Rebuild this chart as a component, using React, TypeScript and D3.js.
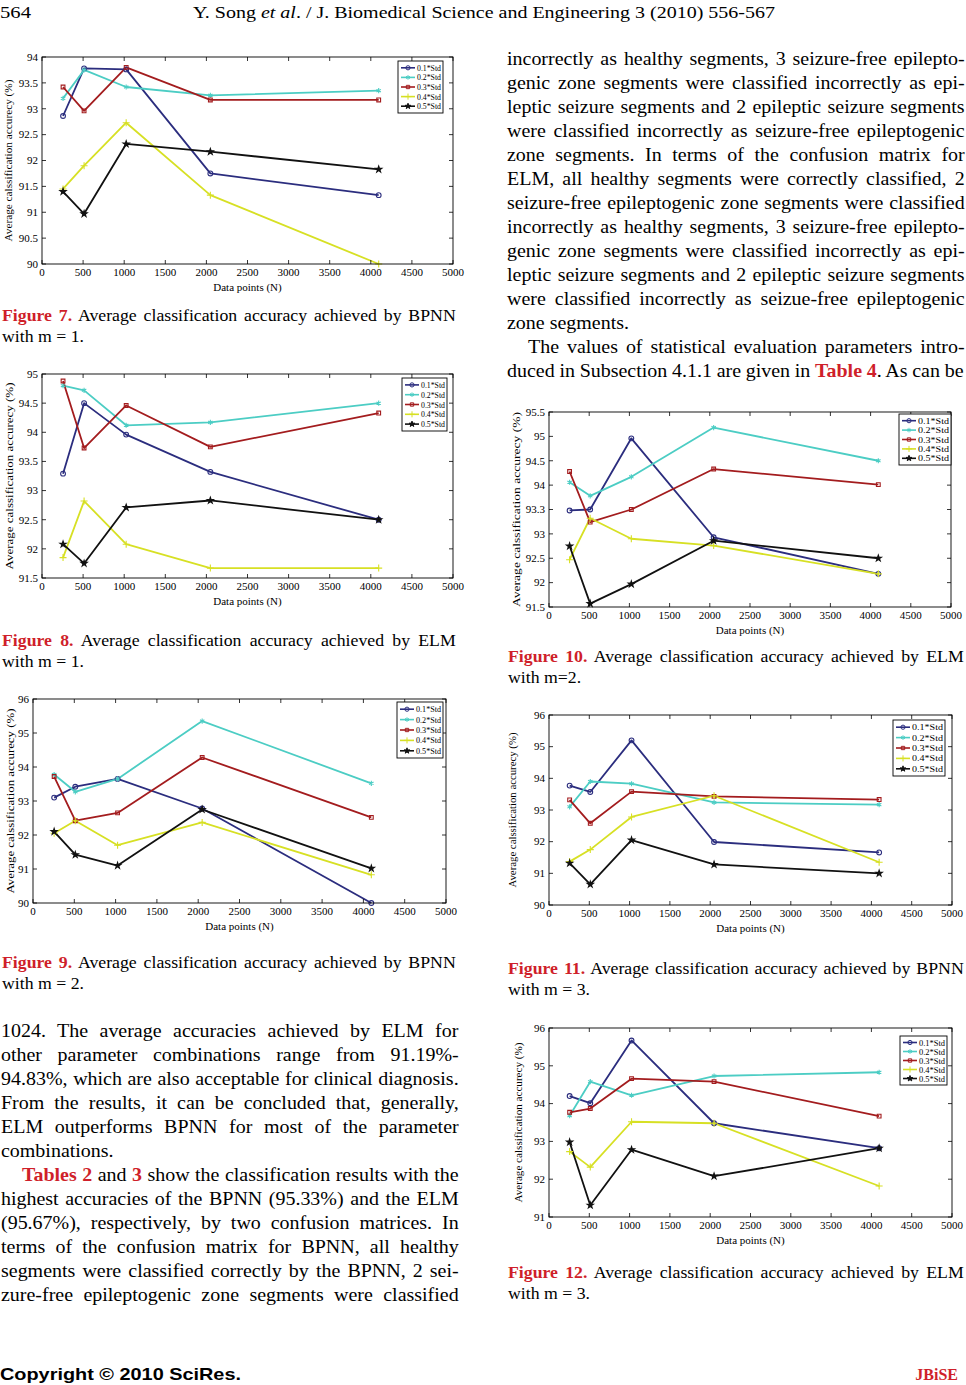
import React from 'react';
import * as d3 from 'd3';

// ---------------- DATA ----------------
const dataPoints = [256, 512, 1024, 2048, 4096];
const seriesLabels = ['0.1*Std', '0.2*Std', '0.3*Std', '0.4*Std', '0.5*Std'];
const xTicks = [0, 500, 1000, 1500, 2000, 2500, 3000, 3500, 4000, 4500, 5000];

// Figure 7: BPNN, m = 1
const fig7Accuracy = [
  [92.86, 93.78, 93.76, 91.75, 91.33],
  [93.2, 93.75, 93.42, 93.26, 93.35],
  [93.42, 92.96, 93.8, 93.17, 93.17],
  [91.45, 91.9, 92.73, 91.33, 90.0],
  [91.4, 90.97, 92.32, 92.17, 91.83],
];
// Figure 8: ELM, m = 1
const fig8Accuracy = [
  [93.29, 94.5, 93.96, 93.32, 92.5],
  [94.8, 94.72, 94.12, 94.17, 94.5],
  [94.88, 93.73, 94.46, 93.75, 94.33],
  [91.85, 92.82, 92.08, 91.67, 91.67],
  [92.08, 91.75, 92.71, 92.83, 92.5],
];
// Figure 9: BPNN, m = 2
const fig9Accuracy = [
  [93.1, 93.42, 93.65, 92.78, 90.0],
  [93.78, 93.27, 93.65, 95.35, 93.52],
  [93.72, 92.42, 92.65, 94.28, 92.52],
  [92.05, 92.42, 91.7, 92.37, 90.83],
  [92.1, 91.42, 91.1, 92.75, 91.02],
];
// Figure 10: ELM, m = 2
const fig10Accuracy = [
  [93.48, 93.5, 94.96, 92.93, 92.18],
  [94.06, 93.78, 94.17, 95.18, 94.5],
  [94.28, 93.24, 93.5, 94.33, 94.01],
  [92.47, 93.32, 92.9, 92.76, 92.18],
  [92.75, 91.57, 91.97, 92.86, 92.5],
];
// Figure 11: BPNN, m = 3
const fig11Accuracy = [
  [93.77, 93.57, 95.2, 91.99, 91.66],
  [93.1, 93.9, 93.83, 93.24, 93.17],
  [93.32, 92.58, 93.58, 93.43, 93.33],
  [91.37, 91.75, 92.78, 93.45, 91.35],
  [91.32, 90.65, 92.05, 91.28, 91.0],
];
// Figure 12: ELM, m = 3
const fig12Accuracy = [
  [94.2, 94.01, 95.67, 93.48, 92.82],
  [93.68, 94.58, 94.22, 94.73, 94.83],
  [93.77, 93.87, 94.66, 94.58, 93.67],
  [92.73, 92.32, 93.52, 93.48, 91.82],
  [92.98, 91.31, 92.78, 92.08, 92.82],
];

const ticksHalf90to94 = [90, 90.5, 91, 91.5, 92, 92.5, 93, 93.5, 94];
const ticksHalf915to95 = [91.5, 92, 92.5, 93, 93.5, 94, 94.5, 95];
const ticks90to96 = [90, 91, 92, 93, 94, 95, 96];
const ticks91to96 = [91, 92, 93, 94, 95, 96];
const ticksHalf915to955 = [91.5, 92, 92.5, 93, 93.5, 94, 94.5, 95, 95.5];
const fig10YTickLabels = ['91.5', '92', '92.5', '93', '93.3', '94', '94.5', '95', '95.5'];

// ---------------- STYLE ----------------
const seriesColors = ['#2b2d7e', '#4ccdc4', '#a31c1e', '#d7e024', '#111111'];
const seriesSymbols = [d3.symbolCircle, d3.symbolAsterisk, d3.symbolSquare2, d3.symbolPlus, d3.symbolStar];
const RED = '#cf1f2a';
const SERIF = '"Liberation Serif", "Times New Roman", serif';

const chartLayouts = [
  { values: fig7Accuracy, yDomain: [90, 94], yTicks: ticksHalf90to94, l: 42, r: 453, t: 57, b: 264, lg: [398, 61, 443, 113], ylx: -33, yll: 162 },
  { values: fig8Accuracy, yDomain: [91.5, 95], yTicks: ticksHalf915to95, l: 42, r: 453, t: 374, b: 578, lg: [402, 378, 447, 431], ylx: -32, yll: 187 },
  { values: fig9Accuracy, yDomain: [90, 96], yTicks: ticks90to96, l: 33, r: 446, t: 699, b: 903, lg: [397, 702, 443, 758], ylx: -22, yll: 185 },
  { values: fig10Accuracy, yDomain: [91.5, 95.5], yTicks: ticksHalf915to955, yLabels: fig10YTickLabels, l: 549, r: 951, t: 412, b: 607, lg: [899, 414, 951, 465], ylx: -32, yll: 195 },
  { values: fig11Accuracy, yDomain: [90, 96], yTicks: ticks90to96, l: 549, r: 952, t: 715, b: 905, lg: [893, 720, 945, 776], ylx: -36, yll: 155 },
  { values: fig12Accuracy, yDomain: [91, 96], yTicks: ticks91to96, l: 549, r: 952, t: 1028, b: 1217, lg: [900, 1036, 947, 1085], ylx: -30, yll: 160 },
];

// ---------------- TEXT ----------------
type Seg = { t: string; red?: boolean; bold?: boolean; italic?: boolean };
const P = (t: string): Seg => ({ t });
const R = (t: string): Seg => ({ t, red: true, bold: true });

const rightColumnLines: Seg[][] = [
  [P('incorrectly as healthy segments, 3 seizure-free epilepto-')],
  [P('genic zone segments were classified incorrectly as epi-')],
  [P('leptic seizure segments and 2 epileptic seizure segments')],
  [P('were classified incorrectly as seizure-free epileptogenic')],
  [P('zone segments. In terms of the confusion matrix for')],
  [P('ELM, all healthy segments were correctly classified, 2')],
  [P('seizure-free epileptogenic zone segments were classified')],
  [P('incorrectly as healthy segments, 3 seizure-free epilepto-')],
  [P('genic zone segments were classified incorrectly as epi-')],
  [P('leptic seizure segments and 2 epileptic seizure segments')],
  [P('were classified incorrectly as seizue-free epileptogenic')],
  [P('zone segments.')],
  [P('The values of statistical evaluation parameters intro-')],
  [P('duced in Subsection 4.1.1 are given in '), R('Table 4'), P('. As can be')],
];
const rightColumnFlags = [1, 1, 1, 1, 1, 1, 1, 1, 1, 1, 1, 0, 2, 1]; // 0 = ragged, 1 = justified, 2 = indented+justified

const leftColumnLines: Seg[][] = [
  [P('1024. The average accuracies achieved by ELM for')],
  [P('other parameter combinations range from 91.19%-')],
  [P('94.83%, which are also acceptable for clinical diagnosis.')],
  [P('From the results, it can be concluded that, generally,')],
  [P('ELM outperforms BPNN for most of the parameter')],
  [P('combinations.')],
  [R('Tables 2'), P(' and '), R('3'), P(' show the classification results with the')],
  [P('highest accuracies of the BPNN (95.33%) and the ELM')],
  [P('(95.67%), respectively, by two confusion matrices. In')],
  [P('terms of the confusion matrix for BPNN, all healthy')],
  [P('segments were classified correctly by the BPNN, 2 sei-')],
  [P('zure-free epileptogenic zone segments were classified')],
];
const leftColumnFlags = [1, 1, 1, 1, 1, 0, 2, 1, 1, 1, 1, 1];

const captionNumbers = ['Figure 7.', 'Figure 8.', 'Figure 9.', 'Figure 10.', 'Figure 11.', 'Figure 12.'];
const captionFirstLines = [
  ' Average classification accuracy achieved by BPNN',
  ' Average classification accuracy achieved by ELM',
  ' Average classification accuracy achieved by BPNN',
  ' Average classification accuracy achieved by ELM',
  ' Average classification accuracy achieved by BPNN',
  ' Average classification accuracy achieved by ELM',
];
const captionSecondLines = ['with m = 1.', 'with m = 1.', 'with m = 2.', 'with m=2.', 'with m = 3.', 'with m = 3.'];
const captionLayouts = [
  { x: 2, w: 455, y: 321 },
  { x: 2, w: 455, y: 646 },
  { x: 2, w: 455, y: 968 },
  { x: 508, w: 457, y: 662 },
  { x: 508, w: 457, y: 974 },
  { x: 508, w: 457, y: 1278 },
];

// ---------------- HELPERS ----------------
let measureCtx: CanvasRenderingContext2D | null = null;
function measure(text: string, size: number, bold?: boolean, italic?: boolean) {
  if (!measureCtx) measureCtx = document.createElement('canvas').getContext('2d');
  if (!measureCtx) return text.length * size * 0.45;
  measureCtx.font = `${italic ? 'italic ' : ''}${bold ? 'bold ' : ''}${size}px "Liberation Serif"`;
  return measureCtx.measureText(text).width;
}

const SX = 1.11;

function TextLine({ x, y, width, segs, size, justify }: { x: number; y: number; width: number; segs: Seg[]; size: number; justify: boolean }) {
  const natural = d3.sum(segs, (s) => measure(s.t, size, s.bold, s.italic));
  const full = segs.map((s) => s.t).join('');
  const spaces = (full.trim().match(/ /g) || []).length;
  const target = width / SX;
  const ws = justify && spaces > 0 ? (target - natural) / spaces : 0;
  return (
    <text
      transform={`translate(${x},${y}) scale(${SX},1)`}
      fontFamily={SERIF}
      fontSize={size}
      style={{ wordSpacing: `${ws}px`, whiteSpace: 'pre' }}
      fill="#000"
    >
      {segs.map((s, i) => (
        <tspan key={i} fill={s.red ? RED : '#000'} fontWeight={s.bold ? 'bold' : 'normal'} fontStyle={s.italic ? 'italic' : 'normal'}>
          {s.t}
        </tspan>
      ))}
    </text>
  );
}

function Column({ lines, flags, x, width, y0 }: { lines: Seg[][]; flags: number[]; x: number; width: number; y0: number }) {
  const indent = 21;
  return (
    <g>
      {lines.map((segs, i) => {
        const ind = flags[i] === 2 ? indent : 0;
        return <TextLine key={i} x={x + ind} y={y0 + i * 24} width={width - ind} segs={segs} size={18} justify={flags[i] !== 0} />;
      })}
    </g>
  );
}

function Chart({ cfg }: { cfg: any }) {
  const { values, yDomain, yTicks, yLabels, l, r, t, b, lg, ylx, yll } = cfg;
  const x = d3.scaleLinear().domain([0, 5000]).range([l, r]);
  const y = d3.scaleLinear().domain(yDomain).range([b, t]);
  const line = d3
    .line<number>()
    .x((_, i) => x(dataPoints[i]))
    .y((d) => y(d));
  const tl = 4;
  const fmt = (v: number) => String(v);
  const [lx0, ly0, lx1, ly1] = lg;
  const rowH = (ly1 - ly0 - 4) / 5;
  const markSize = [18, 18, 18, 18, 12];
  return (
    <g>
      {values.map((vals: number[], si: number) => (
        <path key={'l' + si} d={line(vals) || ''} fill="none" stroke={seriesColors[si]} strokeWidth={1.8} strokeLinejoin="round" />
      ))}
      {values.map((vals: number[], si: number) =>
        vals.map((v, i) => {
          const sym = d3.symbol(seriesSymbols[si], markSize[si])();
          const filled = si === 4;
          return (
            <path
              key={'m' + si + '-' + i}
              d={sym || ''}
              transform={`translate(${x(dataPoints[i])},${y(v)})`}
              fill={filled ? seriesColors[si] : 'none'}
              stroke={seriesColors[si]}
              strokeWidth={1.1}
            />
          );
        })
      )}
      <rect x={l} y={t} width={r - l} height={b - t} fill="none" stroke="#000" strokeWidth={0.9} />
      {xTicks.map((v) => (
        <g key={'xt' + v}>
          <line x1={x(v)} x2={x(v)} y1={b} y2={b - tl} stroke="#000" strokeWidth={0.8} />
          <line x1={x(v)} x2={x(v)} y1={t} y2={t + tl} stroke="#000" strokeWidth={0.8} />
          <text x={x(v)} y={b + 11.5} textAnchor="middle" fontFamily={SERIF} fontSize={11}>
            {v}
          </text>
        </g>
      ))}
      {yTicks.map((v: number, i: number) => (
        <g key={'yt' + v}>
          <line x1={l} x2={l + tl} y1={y(v)} y2={y(v)} stroke="#000" strokeWidth={0.8} />
          <line x1={r} x2={r - tl} y1={y(v)} y2={y(v)} stroke="#000" strokeWidth={0.8} />
          <text x={l - 4} y={y(v) + 3.8} textAnchor="end" fontFamily={SERIF} fontSize={11}>
            {yLabels ? yLabels[i] : fmt(v)}
          </text>
        </g>
      ))}
      <text x={(l + r) / 2} y={b + 27} textAnchor="middle" fontFamily={SERIF} fontSize={11}>
        Data points (N)
      </text>
      <text
        transform={`translate(${l + ylx},${(t + b) / 2}) rotate(-90)`}
        textAnchor="middle"
        dominantBaseline="middle"
        fontFamily={SERIF}
        fontSize={11}
        textLength={yll}
        lengthAdjust="spacingAndGlyphs"
      >
        Average calssification accurecy (%)
      </text>
      <rect x={lx0} y={ly0} width={lx1 - lx0} height={ly1 - ly0} fill="#fff" stroke="#000" strokeWidth={0.9} />
      {seriesLabels.map((lab, si) => {
        const cy = ly0 + 2 + rowH * (si + 0.5);
        const sym = d3.symbol(seriesSymbols[si], si === 4 ? 10 : 14)();
        return (
          <g key={'lg' + si}>
            <line x1={lx0 + 3} x2={lx0 + 17} y1={cy} y2={cy} stroke={seriesColors[si]} strokeWidth={1.6} />
            <path d={sym || ''} transform={`translate(${lx0 + 10},${cy})`} fill={si === 4 ? seriesColors[si] : 'none'} stroke={seriesColors[si]} strokeWidth={1} />
            <text x={lx0 + 19} y={cy + 3} fontFamily={SERIF} fontSize={8.5} textLength={lx1 - lx0 - 21} lengthAdjust="spacingAndGlyphs">
              {lab}
            </text>
          </g>
        );
      })}
    </g>
  );
}

export default function App() {
  return (
    <svg width={966} height={1385} style={{ position: 'absolute', left: 0, top: 0, background: '#fff' }}>
      <rect x={0} y={0} width={966} height={1385} fill="#fff" />
      <text x={0} y={18} fontFamily={SERIF} fontSize={17} textLength={31} lengthAdjust="spacingAndGlyphs">
        564
      </text>
      <text x={193} y={18} fontFamily={SERIF} fontSize={17} textLength={582} lengthAdjust="spacingAndGlyphs" style={{ whiteSpace: 'pre' }}>
        <tspan>Y. Song </tspan>
        <tspan fontStyle="italic">et al</tspan>
        <tspan>. / J. Biomedical Science and Engineering 3 (2010) 556-567</tspan>
      </text>

      {chartLayouts.map((cfg, i) => (
        <Chart key={i} cfg={cfg} />
      ))}

      {captionLayouts.map((c, i) => (
        <g key={'cap' + i}>
          <TextLine x={c.x} y={c.y} width={c.w} size={16} justify={true} segs={[R(captionNumbers[i]), P(captionFirstLines[i])]} />
          <TextLine x={c.x} y={c.y + 21} width={c.w} size={16} justify={false} segs={[P(captionSecondLines[i])]} />
        </g>
      ))}

      <Column lines={rightColumnLines} flags={rightColumnFlags} x={507} width={458} y0={65} />
      <Column lines={leftColumnLines} flags={leftColumnFlags} x={1} width={458} y0={1037} />

      <text x={0} y={1380} fontFamily='"Liberation Sans", Arial, sans-serif' fontWeight="bold" fontSize={17} textLength={241} lengthAdjust="spacingAndGlyphs">
        Copyright © 2010 SciRes.
      </text>
      <text x={958} y={1380} textAnchor="end" fontFamily={SERIF} fontWeight="bold" fontSize={16} fill={RED}>
        JBiSE
      </text>
    </svg>
  );
}
